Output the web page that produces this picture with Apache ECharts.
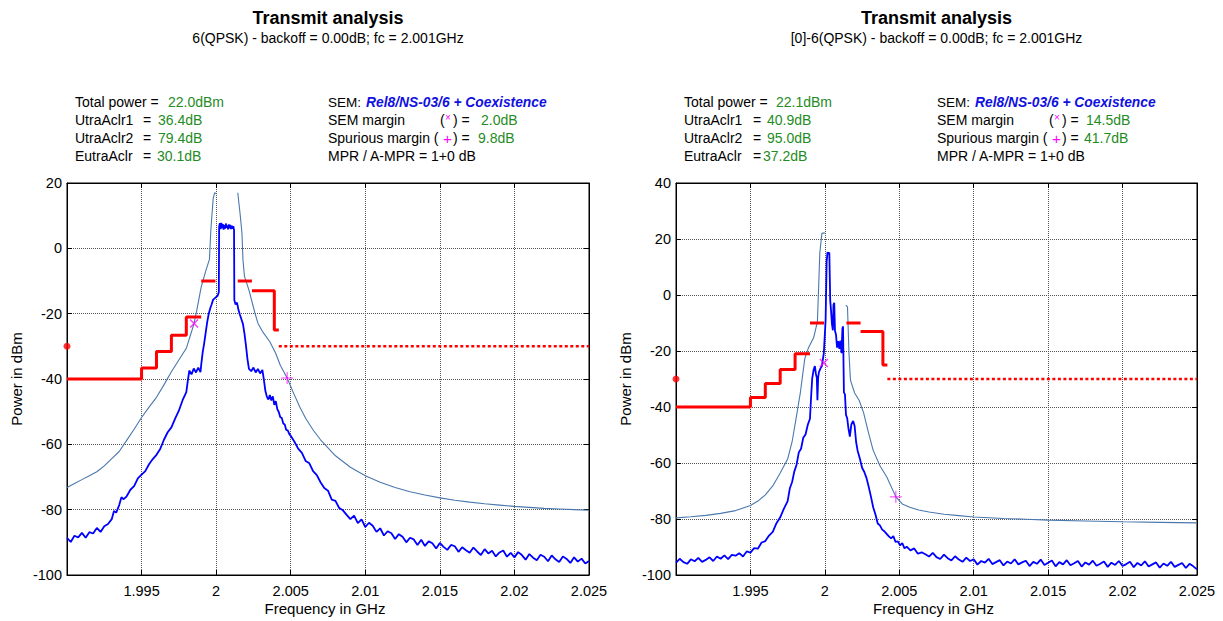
<!DOCTYPE html>
<html>
<head>
<meta charset="utf-8">
<script src="https://cdn.jsdelivr.net/npm/echarts@6/dist/echarts.min.js"></script>
<style>
html,body{margin:0;padding:0;background:#fff;}
#main{width:1223px;height:621px;}
</style>
</head>
<body>
<div id="main"></div>
<script>
// measured spectrum, left plot [GHz, dBm]
var measLeft = [
  [1.99,-88.6],[1.99025,-89.9],[1.9905,-88.0],[1.99075,-88.5],[1.991,-87.1],[1.99125,-88.6],[1.9915,-86.9],[1.99175,-87.3],
  [1.992,-85.6],[1.99225,-86.8],[1.9925,-85.1],[1.99275,-84.4],[1.993,-82.9],[1.99315,-80.4],[1.9933,-80.9],[1.9935,-78.6],
  [1.99365,-76.2],[1.9938,-76.8],[1.994,-75.9],[1.99425,-73.9],[1.9945,-72.8],[1.99475,-70.4],[1.995,-69.3],[1.99525,-68.2],
  [1.9955,-66.1],[1.99575,-64.5],[1.996,-63.2],[1.99625,-61.4],[1.9965,-58.6],[1.99675,-56.3],[1.997,-54.8],[1.99725,-52.1],
  [1.9975,-49.7],[1.99775,-46.5],[1.998,-44.0],[1.9981,-40.6],[1.9982,-37.4],[1.99835,-38.6],[1.9985,-36.8],[1.99865,-38.0],
  [1.9988,-36.5],[1.99895,-37.9],[1.999,-35.6],[1.9991,-31.8],[1.9992,-29.0],[1.9993,-25.8],[1.9994,-22.6],[1.9995,-20.1],
  [1.9996,-18.4],[1.9997,-17.1],[1.9998,-15.7],[1.9999,-15.3],[2.0001,-14.5],[2.00018,-13.4],[2.0002,6.6],[2.00025,7.7],
  [2.0003,5.9],[2.00035,7.8],[2.0004,6.2],[2.00045,7.4],[2.0005,5.7],[2.00055,7.1],[2.0006,6.0],[2.00065,7.6],
  [2.0007,6.3],[2.00075,7.0],[2.0008,5.8],[2.00085,7.3],[2.0009,6.1],[2.00095,7.2],[2.001,5.9],[2.00105,6.9],
  [2.0011,6.0],[2.00115,6.8],[2.0012,5.6],[2.00122,-15.8],[2.0013,-17.2],[2.0014,-16.6],[2.0015,-18.9],[2.0016,-20.4],
  [2.0017,-21.8],[2.0018,-23.2],[2.0019,-26.1],[2.002,-29.8],[2.0021,-33.9],[2.0022,-36.9],[2.00235,-37.6],[2.0025,-36.5],
  [2.00265,-38.0],[2.0028,-36.9],[2.00295,-38.3],[2.0031,-37.2],[2.0032,-40.2],[2.0033,-43.6],[2.0034,-45.4],[2.0035,-46.3],
  [2.0036,-44.9],[2.0037,-46.6],[2.0038,-45.3],[2.0039,-47.9],[2.004,-46.8],[2.0041,-49.2],[2.0042,-50.1],[2.0043,-51.7],
  [2.0044,-51.9],[2.0045,-53.6],[2.0046,-53.9],[2.0047,-55.6],[2.0048,-55.7],[2.0049,-56.8],[2.005,-57.4],[2.00525,-59.2],
  [2.0055,-61.3],[2.00575,-62.6],[2.006,-65.1],[2.00625,-65.8],[2.0065,-68.2],[2.00675,-69.4],[2.007,-71.6],[2.00725,-73.4],
  [2.0075,-74.2],[2.00775,-76.9],[2.008,-77.3],[2.00825,-79.5],[2.0085,-80.2],[2.00875,-81.6],[2.009,-82.9],[2.00925,-81.8],
  [2.0095,-84.1],[2.00975,-83.0],[2.01,-85.3],[2.01025,-84.0],[2.0105,-84.9],[2.01075,-86.8],[2.011,-85.7],[2.01125,-87.9],
  [2.0115,-86.6],[2.01175,-87.2],[2.012,-89.0],[2.01225,-87.5],[2.0125,-88.3],[2.01275,-90.0],[2.013,-88.6],[2.01325,-89.1],
  [2.0135,-90.8],[2.01375,-89.2],[2.014,-91.1],[2.01425,-89.7],[2.0145,-90.3],[2.01475,-91.9],[2.015,-90.2],[2.01525,-91.4],
  [2.0155,-92.3],[2.01575,-90.8],[2.016,-91.2],[2.01625,-92.9],[2.0165,-91.5],[2.01675,-92.4],[2.017,-93.2],[2.01725,-91.6],
  [2.0175,-92.8],[2.01775,-93.9],[2.018,-92.1],[2.01825,-93.4],[2.0185,-92.6],[2.01875,-94.3],[2.019,-93.1],[2.01925,-92.5],
  [2.0195,-94.4],[2.01975,-93.2],[2.02,-94.6],[2.02025,-93.0],[2.0205,-93.9],[2.02075,-95.3],[2.021,-93.6],[2.02125,-94.7],
  [2.0215,-95.5],[2.02175,-93.8],[2.022,-94.4],[2.02225,-95.8],[2.0225,-94.0],[2.02275,-95.2],[2.023,-96.0],[2.02325,-94.3],
  [2.0235,-95.1],[2.02375,-96.3],[2.024,-94.6],[2.02425,-95.9],[2.0245,-95.0],[2.02475,-96.5],[2.025,-95.7]
];
// reference trace, left plot (two parts)
var envLeftLow = [
  [1.99,-73.2],[1.9905,-72.0],[1.991,-70.8],[1.9915,-69.6],[1.992,-68.4],[1.9925,-66.6],[1.993,-64.4],[1.9935,-62.2],
  [1.994,-58.8],[1.9945,-55.4],[1.995,-51.8],[1.9955,-48.6],[1.996,-45.6],[1.9965,-41.8],[1.997,-37.8],[1.9975,-34.2],
  [1.998,-30.6],[1.99852,-23.0],[1.9987,-19.0],[1.999,-11.8],[1.9993,-7.0],[1.99955,-3.4],[1.99965,6.0],[1.9998,15.2],
  [1.9999,17.0],[2.0,16.8]
];
var envLeftHigh = [
  [2.00145,17.0],[2.0016,10.8],[2.00173,4.7],[2.0018,-3.6],[2.0019,-8.6],[2.0022,-12.8],[2.0026,-19.8],[2.0028,-22.9],
  [2.0031,-25.4],[2.0036,-28.6],[2.004,-32.2],[2.0043,-35.8],[2.00476,-39.7],[2.0052,-44.4],[2.0056,-48.5],[2.006,-52.0],
  [2.0065,-55.6],[2.007,-58.6],[2.008,-63.5],[2.009,-67.0],[2.01,-69.6],[2.011,-71.6],[2.012,-73.2],[2.013,-74.5],
  [2.014,-75.5],[2.015,-76.4],[2.016,-77.1],[2.017,-77.7],[2.018,-78.2],[2.019,-78.6],[2.02,-79.0],[2.021,-79.3],
  [2.022,-79.6],[2.023,-79.8],[2.024,-80.0],[2.025,-80.2]
];

// measured spectrum, right plot
var measRight = [
  [1.99,-95.7],[1.99025,-94.2],[1.9905,-95.4],[1.99075,-96.0],[1.991,-94.4],[1.99125,-95.1],[1.9915,-93.9],[1.99175,-95.3],
  [1.992,-94.6],[1.99225,-93.7],[1.9925,-95.0],[1.99275,-93.4],[1.993,-94.2],[1.99325,-93.0],[1.9935,-94.3],[1.99375,-92.8],
  [1.994,-93.1],[1.99425,-92.2],[1.9945,-93.4],[1.99475,-91.6],[1.995,-92.0],[1.99525,-90.4],[1.9955,-90.6],[1.99575,-88.4],
  [1.996,-87.9],[1.99625,-85.9],[1.9965,-84.6],[1.99675,-81.5],[1.997,-79.4],[1.99725,-76.3],[1.9975,-73.6],[1.99765,-69.0],
  [1.9978,-66.8],[1.99795,-63.0],[1.9981,-60.6],[1.99825,-56.2],[1.9984,-54.9],[1.99855,-51.0],[1.9987,-49.8],[1.99885,-46.4],
  [1.999,-44.2],[1.99908,-36.0],[1.99915,-29.8],[1.99925,-26.6],[1.99933,-25.4],[1.9994,-28.2],[1.99946,-29.6],[1.9995,-37.6],
  [1.99955,-29.5],[1.9996,-27.6],[1.9997,-26.3],[1.9998,-25.4],[1.99993,-20.8],[2.00005,-9.0],[2.00012,12.0],[2.00018,15.3],
  [2.00025,14.6],[2.0003,15.2],[2.00036,-2.0],[2.0004,-4.5],[2.00048,-10.5],[2.00054,-12.6],[2.00058,-3.5],[2.00063,-2.8],
  [2.00068,-12.8],[2.00075,-14.2],[2.00082,-18.8],[2.0009,-16.5],[2.00097,-19.2],[2.00105,-16.3],[2.00112,-20.8],[2.00118,-12.0],
  [2.00122,-11.2],[2.00128,-34.8],[2.00135,-35.5],[2.00142,-42.8],[2.0015,-44.0],[2.00158,-47.5],[2.00168,-50.6],[2.00178,-46.2],
  [2.0019,-45.0],[2.002,-46.8],[2.0021,-52.5],[2.0022,-55.6],[2.00235,-58.4],[2.0025,-61.7],[2.00265,-63.2],[2.0028,-65.4],
  [2.00295,-68.6],[2.0031,-72.1],[2.00325,-75.9],[2.0034,-78.4],[2.00355,-81.6],[2.0037,-82.3],[2.00385,-83.8],[2.004,-84.4],
  [2.00415,-85.3],[2.0043,-86.2],[2.00445,-86.9],[2.0046,-86.1],[2.00475,-88.2],[2.0049,-88.0],[2.00505,-89.4],[2.0052,-88.6],
  [2.00535,-90.5],[2.0055,-89.9],[2.00575,-91.2],[2.006,-90.5],[2.00625,-92.4],[2.0065,-91.9],[2.00675,-92.6],[2.007,-93.4],
  [2.00725,-92.1],[2.0075,-93.6],[2.00775,-94.3],[2.008,-92.7],[2.00825,-94.0],[2.0085,-94.8],[2.00875,-93.3],[2.009,-94.5],
  [2.00925,-95.3],[2.0095,-93.8],[2.00975,-95.0],[2.01,-94.4],[2.01025,-96.3],[2.0105,-95.0],[2.01075,-95.6],[2.011,-94.2],
  [2.01125,-96.1],[2.0115,-95.4],[2.01175,-94.7],[2.012,-96.6],[2.01225,-95.2],[2.0125,-95.9],[2.01275,-94.4],[2.013,-96.2],
  [2.01325,-95.5],[2.0135,-94.9],[2.01375,-96.8],[2.014,-95.3],[2.01425,-96.0],[2.0145,-94.5],[2.01475,-96.4],[2.015,-95.6],
  [2.01525,-94.8],[2.0155,-96.9],[2.01575,-95.4],[2.016,-96.2],[2.01625,-94.7],[2.0165,-96.5],[2.01675,-95.8],[2.017,-95.0],
  [2.01725,-97.0],[2.0175,-95.5],[2.01775,-96.3],[2.018,-94.9],[2.01825,-96.7],[2.0185,-96.0],[2.01875,-95.2],[2.019,-97.1],
  [2.01925,-95.6],[2.0195,-96.4],[2.01975,-95.0],[2.02,-96.8],[2.02025,-96.1],[2.0205,-95.3],[2.02075,-97.2],[2.021,-95.7],
  [2.02125,-96.6],[2.0215,-95.1],[2.02175,-97.0],[2.022,-96.2],[2.02225,-95.5],[2.0225,-97.4],[2.02275,-95.9],[2.023,-96.7],
  [2.02325,-95.3],[2.0235,-97.1],[2.02375,-96.4],[2.024,-95.7],[2.02425,-97.5],[2.0245,-96.0],[2.02475,-96.9],[2.025,-98.0]
];
var envRightLow = [
  [1.99,-79.6],[1.991,-79.2],[1.992,-78.7],[1.993,-78.0],[1.994,-77.0],[1.995,-75.2],[1.9955,-73.6],[1.996,-71.4],
  [1.9965,-68.2],[1.997,-63.6],[1.9975,-58.6],[1.9978,-52.4],[1.99805,-44.6],[1.99835,-35.0],[1.99865,-22.8],[1.9989,-18.8],
  [1.99925,-15.2],[1.9995,-9.5],[1.99958,2.5],[1.99966,15.0],[1.9998,22.0],[2.0,22.2]
];
var envRightHigh = [
  [2.00141,-3.6],[2.00152,-4.2],[2.00162,-20.7],[2.00172,-30.4],[2.002,-35.0],[2.0023,-37.6],[2.0026,-42.0],[2.0029,-48.5],
  [2.00324,-55.4],[2.0037,-61.0],[2.00416,-65.0],[2.00477,-72.1],[2.0052,-74.6],[2.0057,-75.8],[2.0063,-76.8],[2.007,-77.5],
  [2.008,-78.3],[2.009,-78.8],[2.01,-79.3],[2.012,-79.8],[2.0135,-80.1],[2.015,-80.4],[2.0175,-80.7],[2.02,-81.0],
  [2.0225,-81.2],[2.025,-81.4]
];

// emission mask (same for both plots)
var maskStair = [[1.99,-40],[1.995,-40],[1.995,-36.6],[1.996,-36.6],[1.996,-31.6],[1.997,-31.6],[1.997,-26.6],[1.998,-26.6],[1.998,-21],[1.999,-21]];
var maskInLow = [[1.999,-10],[1.99995,-10]];
var maskInHigh = [[2.00145,-10],[2.0024,-10]];
var maskOut = [[2.0024,-13],[2.0039,-13],[2.0039,-25],[2.0042,-25]];
var spurLimit = [[2.0042,-30],[2.025,-30]];
var spurStart = [[1.99,-30]];

// margin markers
var semMarkLeft = [[1.99852,-23.0]];
var spurMarkLeft = [[2.00476,-39.7]];
var semMarkRight = [[1.99993,-24.3]];
var spurMarkRight = [[2.00477,-72.1]];

var subtitles = ['6(QPSK) - backoff = 0.00dB; fc = 2.001GHz', '[0]-6(QPSK) - backoff = 0.00dB; fc = 2.001GHz'];
var infoLabels = ['Total power =', 'UtraAclr1', 'UtraAclr2', 'EutraAclr'];
var infoLeft = ['22.0dBm', '36.4dB', '79.4dB', '30.1dB'];
var infoRight = ['22.1dBm', '40.9dB', '95.0dB', '37.2dB'];
var marginLeft = ['2.0dB', '9.8dB'];
var marginRight = ['14.5dB', '41.7dB'];

var FONT = '"Liberation Sans", Arial, Helvetica, sans-serif';
var GREEN = '#1f8c1f', MAG = '#ff00ff', BLUE = '#0000ff', STEEL = '#4a78ad', RED = '#ff0000';

var chart = echarts.init(document.getElementById('main'), null, {renderer: 'svg'});

function txt(x, y, s, o) {
  o = o || {};
  return {
    type: 'text', x: x, y: y, rotation: o.rot || 0, silent: true,
    style: {
      text: s, fill: o.color || '#000', align: o.align || 'left', verticalAlign: 'middle',
      fontSize: o.size || 14, fontFamily: FONT, fontWeight: o.weight || 'normal', fontStyle: o.style || 'normal'
    }
  };
}

function fmt(v) { return String(parseFloat(v.toFixed(3))); }

var panels = [
  {left: 67, width: 522, yMax: 20, meas: measLeft, envA: envLeftLow, envB: envLeftHigh,
   sem: semMarkLeft, spur: spurMarkLeft, info: infoLeft, margin: marginLeft,
   dx: 0, valX: [168, 158, 158, 157], eqX: 143, marginX: [481, 478]},
  {left: 676, width: 521, yMax: 40, meas: measRight, envA: envRightLow, envB: envRightHigh,
   sem: semMarkRight, spur: spurMarkRight, info: infoRight, margin: marginRight,
   dx: 609, valX: [776, 767, 767, 763], eqX: 753, marginX: [1086, 1084]}
];

var grids = [], xAxes = [], yAxes = [], series = [], graphics = [];
var rows = [102, 120, 138, 156];

panels.forEach(function (p, i) {
  grids.push({left: p.left, top: 183, width: p.width, height: 392, show: true,
    borderColor: '#000', borderWidth: 1, containLabel: false, outerBoundsMode: 'none'});
  var tick = {show: true, inside: true, length: 5, lineStyle: {color: '#000'}};
  var line = {show: true, onZero: false, lineStyle: {color: '#000', width: 1}};
  var split = {show: true, lineStyle: {color: '#555', type: 'dotted', width: 1}};
  xAxes.push({type: 'value', gridIndex: i, position: 'bottom', min: 1.99, max: 2.025, interval: 0.005,
    axisLine: line, axisTick: tick, splitLine: split,
    axisLabel: {showMinLabel: false, color: '#000', fontSize: 14.5, fontFamily: FONT, margin: 8, formatter: fmt}});
  xAxes.push({type: 'value', gridIndex: i, position: 'top', min: 1.99, max: 2.025, interval: 0.005,
    axisLine: line, axisTick: tick, splitLine: {show: false}, axisLabel: {show: false}});
  yAxes.push({type: 'value', gridIndex: i, position: 'left', min: -100, max: p.yMax, interval: 20,
    axisLine: line, axisTick: tick, splitLine: split,
    axisLabel: {color: '#000', fontSize: 14.5, fontFamily: FONT, margin: 5}});
  yAxes.push({type: 'value', gridIndex: i, position: 'right', min: -100, max: p.yMax, interval: 20,
    axisLine: line, axisTick: tick, splitLine: {show: false}, axisLabel: {show: false}});

  var ax = {xAxisIndex: 2 * i, yAxisIndex: 2 * i, symbol: 'none', silent: true, animation: false};
  function ln(data, color, width, type, z) {
    return Object.assign({type: 'line', data: data, z: z || 2,
      lineStyle: {color: color, width: width, type: type || 'solid'}}, ax);
  }
  series.push(ln(p.envA, STEEL, 1.1, 'solid', 2));
  series.push(ln(p.envB, STEEL, 1.1, 'solid', 2));
  series.push(ln(p.meas, BLUE, 1.8, 'solid', 3));
  series.push(ln(maskStair, RED, 3, 'solid', 4));
  series.push(ln(maskInLow, RED, 3, 'solid', 4));
  series.push(ln(maskInHigh, RED, 3, 'solid', 4));
  series.push(ln(maskOut, RED, 3, 'solid', 4));
  series.push(ln(spurLimit, RED, 2.5, [3, 2.5], 4));
  series.push({type: 'scatter', xAxisIndex: 2 * i, yAxisIndex: 2 * i, data: spurStart, clip: false,
    symbol: 'circle', symbolSize: 7, itemStyle: {color: RED}, z: 5, silent: true});
  series.push({type: 'scatter', xAxisIndex: 2 * i, yAxisIndex: 2 * i, data: p.sem, z: 6, silent: true,
    symbol: 'path://M0,0L10,10M0,10L10,0', symbolSize: 8,
    itemStyle: {color: 'none', borderColor: MAG, borderWidth: 1.3}});
  series.push({type: 'scatter', xAxisIndex: 2 * i, yAxisIndex: 2 * i, data: p.spur, z: 6, silent: true,
    symbol: 'path://M0,5L10,5M5,0L5,10', symbolSize: 12,
    itemStyle: {color: 'none', borderColor: MAG, borderWidth: 1}});

  // titles
  var cx = p.left + p.width / 2;
  graphics.push(txt(cx, 18, 'Transmit analysis', {align: 'center', size: 18, weight: 'bold'}));
  graphics.push(txt(cx, 38, subtitles[i], {align: 'center', size: 14}));
  // info block
  var d = p.dx;
  graphics.push(txt(75 + d, rows[0], infoLabels[0]));
  for (var r = 1; r < 4; r++) {
    graphics.push(txt(75 + d, rows[r], infoLabels[r]));
    graphics.push(txt(p.eqX, rows[r], '='));
  }
  for (r = 0; r < 4; r++) graphics.push(txt(p.valX[r], rows[r], p.info[r], {color: GREEN}));
  graphics.push(txt(328 + d, rows[0], 'SEM:', {size: 13.5}));
  graphics.push(txt(366 + d, rows[0], 'Rel8/NS-03/6 + Coexistence', {color: '#1010e0', weight: 'bold', style: 'italic', size: 13.8}));
  graphics.push(txt(328 + d, rows[1], 'SEM margin'));
  graphics.push(txt(440 + d, rows[1], '('));
  graphics.push(txt(445 + d, rows[1] - 3, '\u00d7', {color: MAG, size: 10}));
  graphics.push(txt(453 + d, rows[1], ') ='));
  graphics.push(txt(328 + d, rows[2], 'Spurious margin ('));
  graphics.push(txt(443 + d, rows[2], '+', {color: MAG, size: 15}));
  graphics.push(txt(453 + d, rows[2], ') ='));
  graphics.push(txt(p.marginX[0], rows[1], p.margin[0], {color: GREEN}));
  graphics.push(txt(p.marginX[1], rows[2], p.margin[1], {color: GREEN}));
  graphics.push(txt(328 + d, rows[3], 'MPR / A-MPR = 1+0 dB'));
  // axis names
  graphics.push(txt(p.left - 51, 379, 'Power in dBm', {align: 'center', size: 15, rot: Math.PI / 2}));
  graphics.push(txt(cx - 3, 608, 'Frequency in GHz', {align: 'center', size: 15}));
});

chart.setOption({
  animation: false,
  backgroundColor: '#fff',
  textStyle: {fontFamily: FONT},
  grid: grids,
  xAxis: xAxes,
  yAxis: yAxes,
  series: series,
  graphic: {elements: graphics}
});
</script>
</body>
</html>
